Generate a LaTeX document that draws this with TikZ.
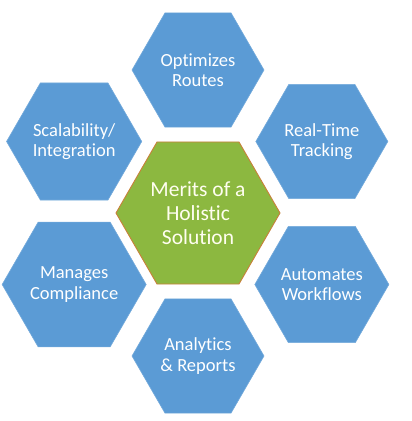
\documentclass[tikz,border=0pt]{standalone}
\usepackage{fontspec}
\setmainfont{Carlito}[Ligatures=NoCommon]
\usetikzlibrary{shapes.geometric}
\definecolor{hexblue}{HTML}{5B9BD5}
\definecolor{hexgreen}{HTML}{8CB840}
\definecolor{hexrim}{HTML}{C8803A}
\tikzset{
	merit/.style={regular polygon, regular polygon sides=6, minimum size=132pt, inner sep=0pt,
		fill=hexblue, draw=hexblue!85!white, line width=0.6pt, text=white, align=center,
		font=\fontsize{18.5}{20.5}\selectfont},
	hub/.style={regular polygon, regular polygon sides=6, minimum size=164pt, inner sep=0pt,
		fill=hexgreen, draw=hexrim, line width=0.9pt, text=white!94!yellow, align=center,
		font=\fontsize{21.5}{24}\selectfont}
}

\begin{document}
\begin{tikzpicture}[x=1pt, y=1pt]
		%%%%% START %%%%%
		
		\useasboundingbox (0, 0) rectangle (412, 421);
		
		\node[hub] (solution) at (198, 208) {Merits of a\\Holistic\\Solution};
		
		\node[merit] (routes) at ([shift={(90:143)}]solution.center) {Optimizes\\Routes};
		\node[merit] (tracking) at ([shift={(30:143)}]solution.center) {Real-Time\\Tracking};
		\node[merit] (workflows) at ([shift={(-30:143)}]solution.center) {Automates\\Workflows};
		\node[merit] (reports) at ([shift={(-90:143)}]solution.center) {Analytics\\\& Reports};
		\node[merit] (compliance) at ([shift={(-150:143)}]solution.center) {Manages\\Compliance};
		\node[merit] (integration) at ([shift={(150:143)}]solution.center) {Scalability/\\Integration};
		
		%%%%% END %%%%%
	\end{tikzpicture}
\end{document}
